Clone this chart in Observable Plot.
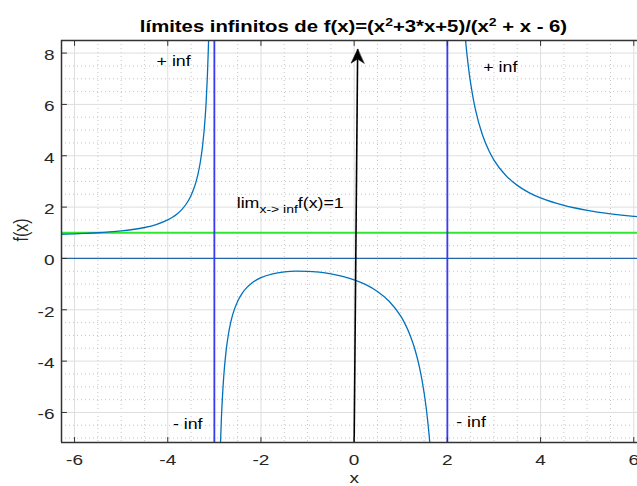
<!DOCTYPE html>
<html><head><meta charset="utf-8">
<script src="https://cdn.jsdelivr.net/npm/d3@7"></script>
<script src="https://cdn.jsdelivr.net/npm/@observablehq/plot@0.6"></script>
<style>html,body{margin:0;padding:0;background:#fff;overflow:hidden}svg{display:block}</style>
</head><body><div id="chart"></div>
<script>
// ---- data ----
const leftX = [-6.28,-6,-5.75,-5.5,-5.25,-5,-4.75,-4.5,-4.25,-4,-3.9,-3.8,-3.7,-3.6,-3.55,-3.5,-3.45,-3.4,-3.35,-3.3,-3.25,-3.2,-3.175,-3.15,-3.13,-3.12,-3.1];
const leftY = [0.943,0.958,0.977,1.0,1.031,1.071,1.127,1.205,1.32,1.5,1.603,1.733,1.902,2.131,2.278,2.455,2.672,2.944,3.296,3.767,4.429,5.423,6.135,7.084,8.107,8.747,10.41];
const midX = [-2.9,-2.88,-2.87,-2.85,-2.82,-2.8,-2.75,-2.7,-2.65,-2.6,-2.5,-2.4,-2.3,-2.2,-2,-1.75,-1.5,-1.25,-1,-0.75,-0.5,-0.25,0,0.25,0.5,0.75,1,1.1,1.2,1.3,1.4,1.5,1.55,1.6,1.625,1.65];
const midY = [-9.612,-7.948,-7.308,-6.285,-5.178,-4.625,-3.632,-2.972,-2.502,-2.152,-1.667,-1.348,-1.126,-0.964,-0.75,-0.6,-0.524,-0.495,-0.5,-0.535,-0.6,-0.697,-0.833,-1.022,-1.286,-1.667,-2.25,-2.577,-2.988,-3.518,-4.227,-5.222,-5.886,-6.717,-7.216,-7.787];
const rightX = [2.3,2.35,2.4,2.45,2.5,2.55,2.6,2.75,2.9,3,3.25,3.5,3.75,4,4.5,5,5.5,6,6.1];
const rightY = [10.81,9.385,8.315,7.483,6.818,6.274,5.821,4.826,4.164,3.833,3.24,2.846,2.566,2.357,2.067,1.875,1.74,1.639,1.622];

const verticalAsymptotes = [-3, 2];
const horizontalAsymptote = [1];
const zeroLine = [0];

const xTicks = [-6,-4,-2,0,2,4,6];
const xTickLabels = ["-6","-4","-2","0","2","4","6"];
const yTicks = [-6,-4,-2,0,2,4,6,8];
const yTickLabels = ["-6","-4","-2","0","2","4","6","8"];
const xMinor = [-5.5,-5,-4.5,-3.5,-3,-2.5,-1.5,-1,-0.5,0.5,1,1.5,2.5,3,3.5,4.5,5,5.5];
const yMinor = [-7,-6.5,-5.5,-5,-4.5,-3.5,-3,-2.5,-1.5,-1,-0.5,0.5,1,1.5,2.5,3,3.5,4.5,5,5.5,6.5,7,7.5,8.5];

const xDomain = [-6.28, 6.08];
const yDomain = [-7.17, 8.49];

const annotations = [
  {x: -4.24, y: 7.48, text: "+ inf"},
  {x: 2.77, y: 7.25, text: "+ inf"},
  {x: -3.89, y: -6.65, text: "- inf"},
  {x: 2.19, y: -6.58, text: "- inf"}
];
const arrow = [{x1: 0, y1: -7.17, x2: 0.075, y2: 8.15}];

// ---- build table ----
const curve = [
  ...leftX.map((x, i) => ({x, y: leftY[i], branch: "left"})),
  ...midX.map((x, i) => ({x, y: midY[i], branch: "mid"})),
  ...rightX.map((x, i) => ({x, y: rightY[i], branch: "right"}))
];

const FONT = "Liberation Sans, Arial, Helvetica, sans-serif";
const STRETCH = 1.27;
const INK = "#262626";

const lineShape = {draw(c, l) { c.moveTo(0, 0); c.lineTo(0, -l); }};
const headShape = {draw(c, l) {
  const w = 6.5;
  c.moveTo(0, -l); c.lineTo(-w, 0); c.lineTo(0, -l * 0.3); c.lineTo(w, 0); c.closePath();
}};

const plot = Plot.plot({
  width: 637,
  height: 486,
  marginLeft: 61,
  marginRight: 0,
  marginTop: 40,
  marginBottom: 44,
  style: {fontFamily: FONT, fontSize: "15px", color: INK, background: "white"},
  x: {domain: xDomain, label: null},
  y: {domain: yDomain, label: null},
  marks: [
    Plot.ruleX(xMinor, {stroke: "#b8b8b8", strokeWidth: 0.8, strokeDasharray: "1,3"}),
    Plot.ruleY(yMinor, {stroke: "#b8b8b8", strokeWidth: 0.8, strokeDasharray: "1,3"}),
    Plot.ruleX(xTicks, {stroke: "#dedede", strokeWidth: 1}),
    Plot.ruleY(yTicks, {stroke: "#dedede", strokeWidth: 1}),
    Plot.ruleY(zeroLine, {stroke: "#2466a8", strokeWidth: 1.3}),
    Plot.ruleY(horizontalAsymptote, {stroke: "#2ee82e", strokeWidth: 2}),
    Plot.ruleX(verticalAsymptotes, {stroke: "#3a3af2", strokeWidth: 1.8}),
    Plot.line(curve, {x: "x", y: "y", z: "branch", stroke: "#0072bd", strokeWidth: 1.3, curve: "monotone-x", clip: true}),
    Plot.link(arrow, {x1: "x1", y1: "y1", x2: "x2", y2: "y2", stroke: "black", strokeWidth: 1.6}),
    Plot.vector(arrow, {x: "x2", y: "y2", length: 14, rotate: 0.5, anchor: "end", shape: headShape, fill: "black", stroke: "black", strokeWidth: 0.5}),
    // frame (left, bottom, top)
    Plot.ruleX([xDomain[0]], {stroke: "#333", strokeWidth: 1.5}),
    Plot.ruleY([yDomain[0], yDomain[1]], {stroke: "#333", strokeWidth: 1.5}),
    // inward ticks
    Plot.vector(xTicks, {x: d => d, y: yDomain[0], length: 5, rotate: 0, anchor: "start", shape: lineShape, stroke: "#333", strokeWidth: 1}),
    Plot.vector(xTicks, {x: d => d, y: yDomain[1], length: 5, rotate: 180, anchor: "start", shape: lineShape, stroke: "#333", strokeWidth: 1}),
    Plot.vector(yTicks, {x: xDomain[0], y: d => d, length: 5, rotate: 90, anchor: "start", shape: lineShape, stroke: "#333", strokeWidth: 1}),
    Plot.axisX(xTicks, {anchor: "bottom", tickSize: 0, tickPadding: 12, fontSize: 15, fill: INK, label: null, tickFormat: (d, i) => xTickLabels[xTicks.indexOf(d)]}),
    Plot.axisY(yTicks, {anchor: "left", tickSize: 0, tickPadding: 7, dy: 2, fontSize: 15, fill: INK, label: null, tickFormat: (d, i) => yTickLabels[yTicks.indexOf(d)]}),
    Plot.text(annotations, {x: "x", y: "y", text: "text", textAnchor: "start", lineAnchor: "bottom", fontSize: 14, fill: "black"}),
    Plot.text(["x"], {x: 0, frameAnchor: "bottom", dy: 40, lineAnchor: "bottom", fontSize: 15, fill: INK}),
    Plot.text(["f(x)"], {frameAnchor: "left", dx: -40, rotate: -90, fontSize: 16, fill: INK})
  ]
});

document.getElementById("chart").appendChild(plot);

// stretch the horizontal text like the reference
plot.querySelectorAll("text").forEach(t => {
  const tr = t.getAttribute("transform");
  if (!tr) return;
  if (/rotate/.test(tr)) t.setAttribute("transform", tr + ` scale(1,${STRETCH})`);
  else t.setAttribute("transform", tr + ` scale(${STRETCH},1)`);
});

const sx = plot.scale("x"), sy = plot.scale("y");
const svg = d3.select(plot);

// title with superscripts
const title = svg.append("text")
  .attr("transform", `translate(353.5,32) scale(${STRETCH},1)`)
  .attr("text-anchor", "middle").attr("font-family", FONT).attr("font-weight", "bold")
  .attr("font-size", 16).attr("fill", "black").style("white-space", "pre");
title.append("tspan").text("límites infinitos de f(x)=(x");
title.append("tspan").attr("dy", -6).attr("font-size", 11).text("2");
title.append("tspan").attr("dy", 6).text("+3*x+5)/(x");
title.append("tspan").attr("dy", -6).attr("font-size", 11).text("2");
title.append("tspan").attr("dy", 6).text(" + x - 6)");

// limit annotation with subscript
const limPos = {x: -2.51, y: 1.96};
const lim = svg.append("text")
  .attr("transform", `translate(${sx.apply(limPos.x)},${sy.apply(limPos.y)}) scale(${STRETCH},1)`)
  .attr("text-anchor", "start")
  .attr("font-family", FONT).attr("font-size", 14).attr("fill", "black").style("white-space", "pre");
lim.append("tspan").text("lim");
lim.append("tspan").attr("dy", 5).attr("font-size", 11).text("x-> inf");
lim.append("tspan").attr("dy", -5).text("f(x)=1");
</script>
</body></html>
